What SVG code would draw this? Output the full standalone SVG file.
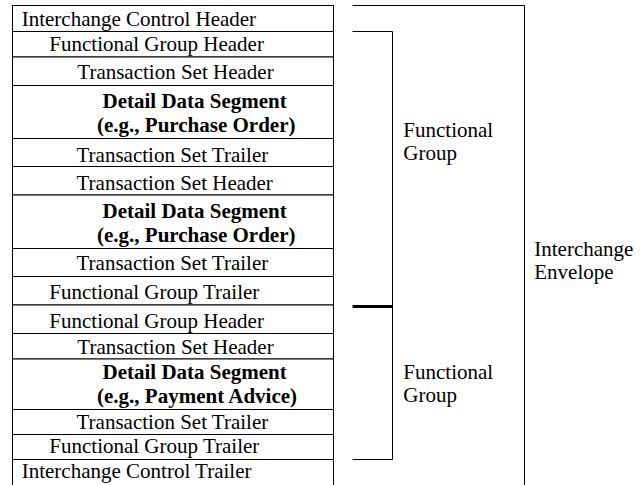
<svg xmlns="http://www.w3.org/2000/svg" width="642" height="485" viewBox="0 0 642 485">
<style>
  .cell { fill: #ffffff; stroke: #000000; stroke-width: 1; }
  .t { font-family: "Liberation Serif", "Times New Roman", serif; font-size: 21px; fill: #000000; }
  .b { font-weight: bold; }
  .ln { stroke: #000000; stroke-width: 1; fill: none; }
  .thick { stroke: #000000; stroke-width: 3; fill: none; }
</style>
<rect x="0" y="0" width="642" height="485" fill="#ffffff"/>
<g id="ic-header"><rect class="cell" x="12.5" y="5.5" width="321" height="26"/><text class="t" x="21.7" y="26">Interchange Control Header</text></g>
<g id="fg-header-1"><rect class="cell" x="12.5" y="31.5" width="321" height="25.5"/><text class="t" x="49.3" y="51">Functional Group Header</text></g>
<g id="ts-header-1"><rect class="cell" x="12.5" y="57" width="321" height="28.5"/><text class="t" x="77.3" y="79">Transaction Set Header</text></g>
<g id="detail-1"><rect class="cell" x="12.5" y="85.5" width="321" height="53"/><text class="t b" x="102.5" y="107.5">Detail Data Segment</text><text class="t b" x="97" y="131.5">(e.g., Purchase Order)</text></g>
<g id="ts-trailer-1"><rect class="cell" x="12.5" y="138.5" width="321" height="28"/><text class="t" x="76.5" y="161.5">Transaction Set Trailer</text></g>
<g id="ts-header-2"><rect class="cell" x="12.5" y="166.5" width="321" height="28.5"/><text class="t" x="76.5" y="190">Transaction Set Header</text></g>
<g id="detail-2"><rect class="cell" x="12.5" y="195" width="321" height="53.5"/><text class="t b" x="102.5" y="218">Detail Data Segment</text><text class="t b" x="97" y="242">(e.g., Purchase Order)</text></g>
<g id="ts-trailer-2"><rect class="cell" x="12.5" y="248.5" width="321" height="28"/><text class="t" x="76.5" y="270">Transaction Set Trailer</text></g>
<g id="fg-trailer-1"><rect class="cell" x="12.5" y="276.5" width="321" height="28.5"/><text class="t" x="49.3" y="299">Functional Group Trailer</text></g>
<g id="fg-header-2"><rect class="cell" x="12.5" y="305" width="321" height="28.5"/><text class="t" x="49.3" y="327.5">Functional Group Header</text></g>
<g id="ts-header-3"><rect class="cell" x="12.5" y="333.5" width="321" height="25.5"/><text class="t" x="77.3" y="353.5">Transaction Set Header</text></g>
<g id="detail-3"><rect class="cell" x="12.5" y="359" width="321" height="50.5"/><text class="t b" x="102.5" y="379">Detail Data Segment</text><text class="t b" x="97" y="402.5">(e.g., Payment Advice)</text></g>
<g id="ts-trailer-3"><rect class="cell" x="12.5" y="409.5" width="321" height="25"/><text class="t" x="76.5" y="428.5">Transaction Set Trailer</text></g>
<g id="fg-trailer-2"><rect class="cell" x="12.5" y="434.5" width="321" height="25"/><text class="t" x="49.3" y="453">Functional Group Trailer</text></g>
<g id="ic-trailer"><rect class="cell" x="12.5" y="459.5" width="321" height="30"/><text class="t" x="21.7" y="478">Interchange Control Trailer</text></g>
<g id="connectors">
  <path class="ln" d="M352.5,5.5 H524.5 V490"/>
  <path class="ln" d="M352.5,31.5 H392.5 V459.5 H352.5"/>
  <path class="thick" d="M352.5,306.5 H392.5"/>
</g>
<g id="label-fg-1"><text class="t" x="403.3" y="137">Functional</text><text class="t" x="403.3" y="160">Group</text></g>
<g id="label-fg-2"><text class="t" x="403.3" y="379">Functional</text><text class="t" x="403.3" y="402">Group</text></g>
<g id="label-envelope"><text class="t" x="534.3" y="256">Interchange</text><text class="t" x="534.3" y="279">Envelope</text></g>
</svg>
